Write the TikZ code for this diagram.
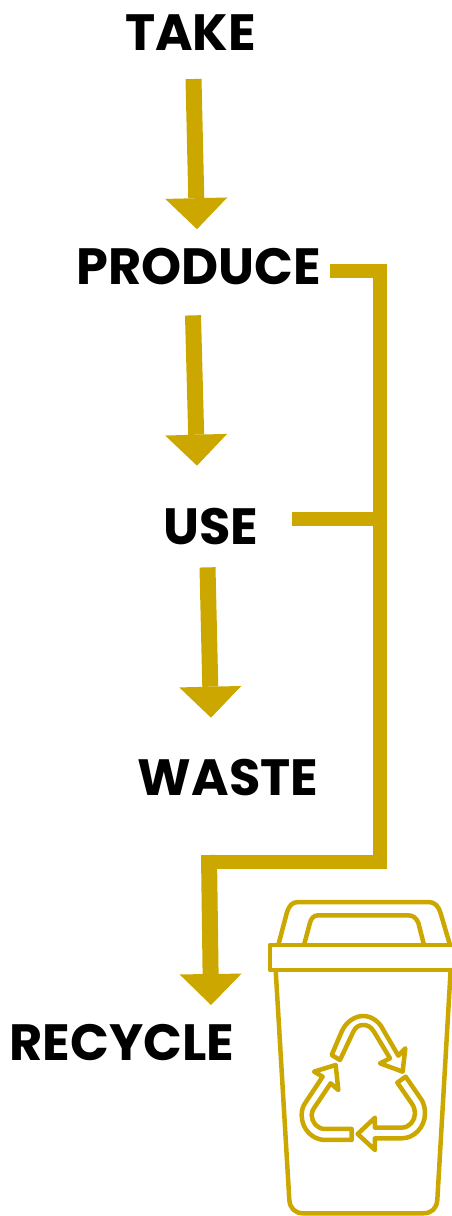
\documentclass[tikz,border=0pt]{standalone}
\usepackage{fontspec}
\setmainfont{Poppins}[BoldFont={Poppins Bold}]
\usetikzlibrary{arrows.meta}
\definecolor{gold}{RGB}{204,167,0}
\tikzset{
 word/.style={font=\fontsize{51}{51}\selectfont\bfseries,text=black,anchor=base,inner sep=0pt,outer sep=0pt},
 arrowline/.style={draw=gold,line width=16pt,-{Triangle[width=62pt,length=31pt,line width=0pt]}},
 bar/.style={draw=gold,line width=14pt,line join=miter},
 binline/.style={draw=gold,line width=4.5pt,line join=round,line cap=round},
}
\begin{document}
\begin{tikzpicture}[x=1pt,y=-1pt]
\useasboundingbox (0,0) rectangle (452,1216);
\node[word] (take) at (190.5,50) {TAKE};
\node[word] (produce) at (198.5,284) {PRODUCE};
\node[word] (use) at (210.5,544) {USE};
\node[word] (waste) at (228,795) {WASTE};
\node[word] (recycle) at (122,1060) {RECYCLE};
\coordinate (j1) at (380,270.5);
\coordinate (j2) at (380,519);
\coordinate (j3) at (380,862);
\coordinate (j4) at (209,862);
\coordinate (recycleTip) at (211,1005);
\draw[arrowline] ([shift={(3,29)}]take.south) -- ([shift={(-1.5,-18.5)}]produce.north);
\draw[arrowline] ([shift={(-5.5,31)}]produce.south) -- ([shift={(-1.5,-42)}]produce.south |- use.north);
\draw[arrowline] ([shift={(-3,23)}]use.south) -- ([shift={(-17,-41)}]waste.north);
\draw[bar] ([xshift=9pt]produce.east |- j1) -- (j1) -- (j2) -- (j3) -- (j4);
\draw[bar] ([xshift=34pt]use.east |- j2) -- (j2);
\draw[arrowline] (j4) ++(0,-7) -- (recycleTip);
\begin{scope}[shift={(260,890)},x=0.3333pt,y=-0.3333pt]
 \draw[binline] (55,165) -- (80,70) .. controls (87,48) and (95,36) .. (115,36) -- (505,36) .. controls (525,36) and (535,48) .. (542,70) -- (570,165);
 \draw[binline] (132,165) -- (150,98) .. controls (155,84) and (160,76) .. (175,76) -- (445,76) .. controls (460,76) and (468,84) .. (475,98) -- (492,165);
 \draw[binline] (30,165) rectangle (585,240);
 \draw[binline] (47,240) -- (88,930) .. controls (90,955) and (105,970) .. (130,970) -- (490,970) .. controls (515,970) and (530,955) .. (532,930) -- (572,240);
 \draw[binline] (215,495) -- (245,425) .. controls (258,395) and (285,378) .. (310,378) .. controls (335,378) and (358,395) .. (370,420) -- (415,497) -- (436,475) -- (428,545) -- (360,520) -- (390,505) -- (342,425) .. controls (333,410) and (322,405) .. (310,405) .. controls (298,405) and (287,410) .. (280,425) -- (240,510) -- cycle;
 \draw[binline] (235,600) -- (227,525) -- (162,545) -- (188,560) -- (135,640) .. controls (128,650) and (125,662) .. (125,675) .. controls (125,720) and (160,750) .. (195,750) -- (275,750) -- (275,717) -- (195,717) .. controls (172,717) and (155,697) .. (155,675) .. controls (155,667) and (158,660) .. (165,650) -- (212,580) -- cycle;
 \draw[binline] (412,578) -- (437,560) -- (485,630) .. controls (492,642) and (495,655) .. (495,670) .. controls (495,712) and (462,745) .. (425,745) -- (345,745) -- (345,780) -- (293,732) -- (345,683) -- (345,713) -- (425,713) .. controls (448,713) and (465,692) .. (465,670) .. controls (465,660) and (462,650) .. (455,640) -- cycle;
\end{scope}
\end{tikzpicture}
\end{document}
